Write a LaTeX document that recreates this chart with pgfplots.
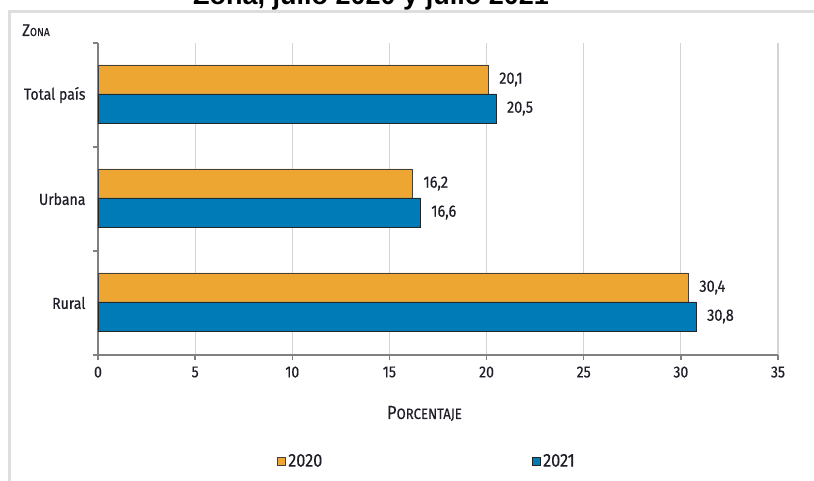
\documentclass[border=0pt]{standalone}
\usepackage{fontspec}
\setmainfont{Fira Sans}[FakeStretch=0.88, FakeBold=0.4]
\newfontfamily\titlefont{Liberation Sans}
\usepackage{pgfplots}
\pgfplotsset{compat=1.18}
\definecolor{orng}{RGB}{237,166,50}
\definecolor{blu}{RGB}{0,123,183}
\definecolor{axgray}{RGB}{128,128,128}
\definecolor{gridgray}{RGB}{212,212,212}
\definecolor{framegray}{RGB}{222,222,222}
\definecolor{txt}{RGB}{30,30,40}
\begin{document}
\begin{tikzpicture}[x=1pt,y=1pt]
\begin{axis}[
  name=ax, anchor=south west, scale only axis,
  width=680pt, height=312pt,
  xbar, bar width=29pt,
  xmin=0, xmax=35, ymin=-0.5, ymax=2.5,
  axis lines*=left,
  axis line style={axgray, line width=1.5pt},
  xtick={0,5,10,15,20,25,30,35},
  xmajorgrids, grid style={gridgray, line width=1.2pt},
  ytick={-0.5,0.5,1.5,2.5}, yticklabels={},
  extra y ticks={0,1,2},
  extra y tick labels={Rural,Urbana,Total país},
  extra y tick style={major tick length=0pt, yticklabel style={xshift=-9pt}},
  tick align=outside, major tick length=5pt,
  tick style={axgray, line width=1.5pt},
  ticklabel style={text=txt},
  /pgf/number format/assume math mode=true,
  xticklabel style={font=\fontsize{16}{18}\selectfont, yshift=-3pt},
  yticklabel style={font=\fontsize{16}{18}\selectfont},
  xlabel={P{\fontsize{15}{16}\selectfont ORCENTAJE}},
  xlabel style={font=\fontsize{19}{20}\selectfont, text=txt, at={(0.48,0)}, anchor=base, yshift=-64pt},
  nodes near coords={\pgfmathprintnumber[fixed,fixed zerofill,precision=1,use comma,assume math mode=true]{\pgfplotspointmeta}},
  nodes near coords style={font=\fontsize{16.5}{18}\selectfont, text=txt, xshift=7pt},
  legend columns=2,
  legend style={draw=none, fill=none, at={(0.484,-0.34)}, anchor=center,
    font=\fontsize{18.5}{20}\selectfont, text=txt,
    /tikz/every even column/.append style={column sep=208pt}},
  legend image code/.code={\draw[#1, line width=0.8pt] (0pt,-4pt) rectangle (8pt,4pt);},
]
\addplot[fill=orng, draw=black!75, line width=0.8pt, bar shift=15.5pt] coordinates {(30.4,0) (16.2,1) (20.1,2)};
\addplot[fill=blu, draw=black!85, line width=0.8pt, bar shift=-13.5pt] coordinates {(30.8,0) (16.6,1) (20.5,2)};
\legend{2020,2021}
\end{axis}
\begin{scope}[shift={(ax.south west)}, xshift=-98pt, yshift=-126pt]
\draw[framegray, line width=3pt] (10,-5) -- (10,469) -- (830,469);
\node[font=\titlefont\bfseries\fontsize{27}{30}\selectfont, anchor=base, text=black] at (371,476) {Zona, julio 2020 y julio 2021};
\node[anchor=base west, inner sep=0pt, text=txt, font=\fontsize{17}{18}\selectfont] at (22,445) {Z\fontsize{11.5}{12}\selectfont ONA};
\pgfresetboundingbox
\useasboundingbox (0,0) rectangle (814,481);
\end{scope}
\end{tikzpicture}
\end{document}
